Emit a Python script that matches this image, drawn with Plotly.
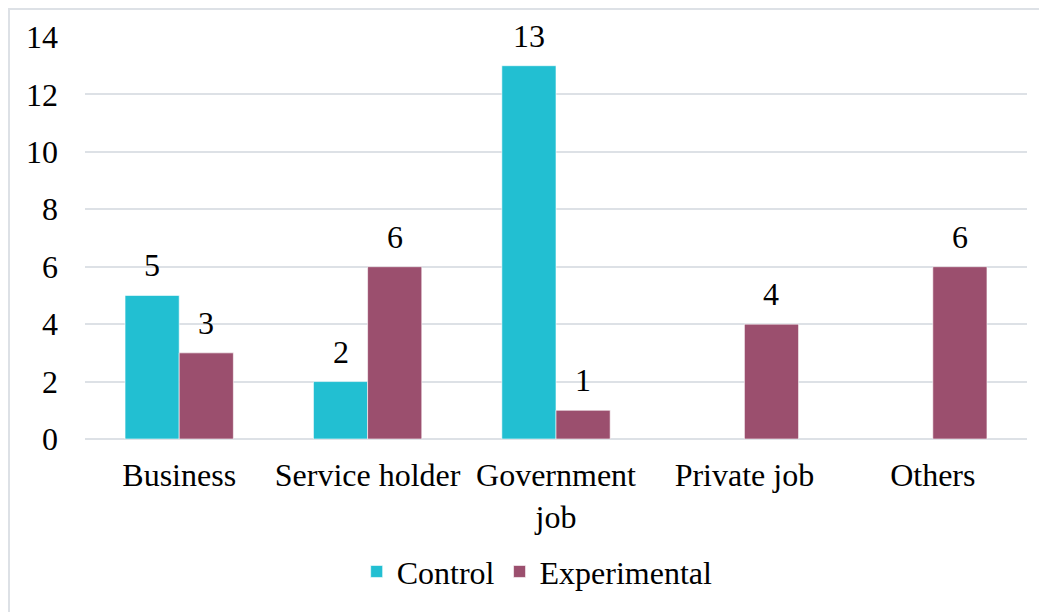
import plotly.graph_objects as go

categories = ["Business", "Service holder", "Government<br>job", "Private job", "Others"]
control = [5, 2, 13, None, None]
experimental = [3, 6, 1, 4, 6]
y_ticks = [0, 2, 4, 6, 8, 10, 12, 14]

FONT = "Liberation Serif"
FS = 32
C_CTRL = "#22BFD2"
C_EXP = "#9B4F6E"

# page body has an 8px margin, so the figure is drawn 8px right/down
W, H = 1039, 604
L, R, T, B = 77, 20, 29, 173
plot_w = W - L - R
plot_h = H - T - B
bargap = 0.425
bar_px = plot_w / len(categories) * (1 - bargap) / 2

fig = go.Figure()
fig.add_trace(go.Bar(name="Control", x=categories, y=control, marker_color=C_CTRL,
                     marker_line=dict(color="rgba(255,255,255,0.6)", width=1)))
fig.add_trace(go.Bar(name="Experimental", x=categories, y=experimental, marker_color=C_EXP,
                     marker_line=dict(color="rgba(255,255,255,0.6)", width=1)))

annotations = []
for series, shift in ((control, -bar_px / 2), (experimental, bar_px / 2)):
    for cat, v in zip(categories, series):
        if v is None:
            continue
        annotations.append(dict(x=cat, y=v, text=str(v), showarrow=False, xshift=shift,
                                yanchor="bottom", yshift=10,
                                font=dict(family=FONT, size=FS, color="black")))

fig.update_layout(
    width=W, height=H,
    margin=dict(l=L, r=R, t=T, b=B),
    barmode="group", bargap=bargap, bargroupgap=0,
    plot_bgcolor="white", paper_bgcolor="white",
    font=dict(family=FONT, size=FS, color="black"),
    showlegend=True,
    legend=dict(orientation="h", x=0.48, xanchor="center", y=-0.33, yanchor="middle",
                font=dict(family=FONT, size=FS, color="black"), itemwidth=30,
                traceorder="normal"),
    annotations=annotations,
    shapes=[dict(type="rect", xref="paper", yref="paper",
                 x0=(1 - L) / plot_w, x1=(W + 5 - L) / plot_w,
                 y0=-(B + 5) / plot_h, y1=1 + (T - 1) / plot_h,
                 line=dict(color="#DDE1E6", width=2), fillcolor="rgba(0,0,0,0)", layer="below")],
)
fig.update_xaxes(showgrid=False, showline=False, zeroline=False, ticks="",
                 tickfont=dict(family=FONT, size=FS, color="black"), ticklabelstandoff=14)
fig.update_yaxes(range=[0, 14], tickvals=y_ticks, showgrid=True, gridcolor="#DDE1E6", gridwidth=2,
                 zeroline=True, zerolinecolor="#DDE1E6", zerolinewidth=2, showline=False, ticks="",
                 tickfont=dict(family=FONT, size=FS, color="black"), ticklabelstandoff=26)

fig.write_html("out.html")
